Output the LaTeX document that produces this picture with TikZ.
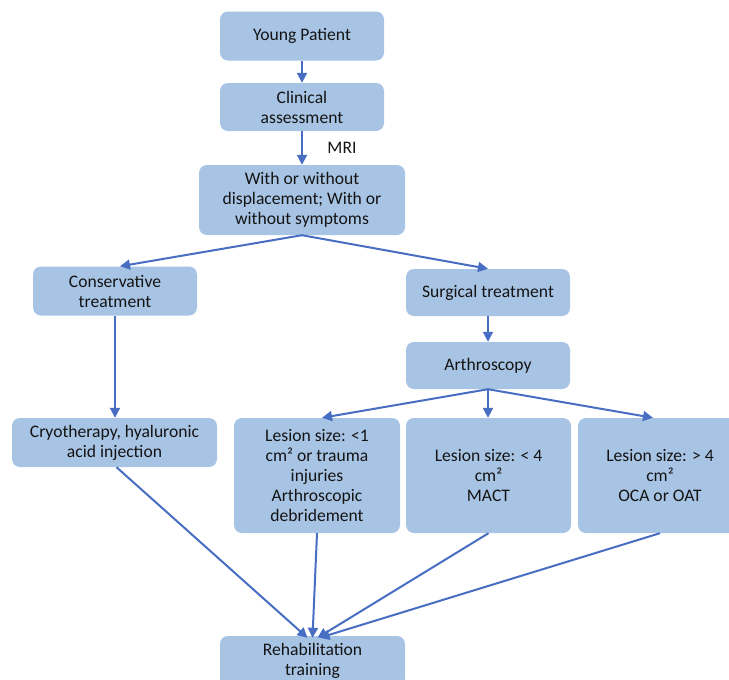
\documentclass[tikz,border=0pt]{standalone}
\usepackage{fontspec}
\setmainfont{Carlito}
\usetikzlibrary{arrows.meta}
\definecolor{boxfill}{RGB}{168,196,228}
\definecolor{arrowc}{RGB}{72,110,196}
\definecolor{txt}{RGB}{20,20,20}
\tikzset{
  box/.style={draw=none, fill=boxfill, rounded corners=8pt, inner sep=0pt,
    align=center, text=txt, font=\fontsize{17.6}{20}\selectfont},
  conn/.style={draw=arrowc, line width=2pt, -{Triangle[length=10pt,width=10pt]}},
}
\begin{document}
\begin{tikzpicture}[x=1pt,y=-1pt]
\useasboundingbox[fill=white] (0,0) rectangle (729,680);
\begin{scope}
\clip (0,0) rectangle (729,680);
\node[box, minimum width=164pt, minimum height=49pt] (young) at (302,36) {Young Patient};
\node[box, minimum width=164pt, minimum height=48pt] (clin) at (302,107) {Clinical\\assessment};
\node[box, minimum width=206pt, minimum height=70pt] (with) at (302,200) {With or without\\displacement; With or\\without symptoms};
\node[box, minimum width=164pt, minimum height=49pt] (cons) at (115,291) {Conservative\\treatment};
\node[box, minimum width=164pt, minimum height=47pt] (surg) at (488,292.5) {Surgical treatment};
\node[box, minimum width=164pt, minimum height=47pt] (arth) at (488,365.5) {Arthroscopy};
\node[box, minimum width=205pt, minimum height=49pt] (cryo) at (114.5,442.5) {Cryotherapy, hyaluronic\\acid injection};
\node[box, minimum width=166pt, minimum height=115pt] (les1) at (317,475.5) {Lesion size: <1\\cm² or trauma\\injuries\\Arthroscopic\\debridement};
\node[box, minimum width=165pt, minimum height=115pt] (les2) at (488.5,475.5) {Lesion size: < 4\\cm²\\MACT};
\node[box, minimum width=164pt, minimum height=115pt] (les3) at (660,475.5) {Lesion size: > 4\\cm²\\OCA or OAT};
\node[box, minimum width=185pt, minimum height=50pt] (rehab) at (312.5,661) {Rehabilitation\\training};
\node[text=txt, font=\fontsize{17.6}{20}\selectfont] (mri) at (342,148) {MRI};

\draw[conn] (young.south) -- (clin.north);
\draw[conn] (clin.south) -- (with.north);
\draw[conn] (with.south) -- ([xshift=5pt]cons.north);
\draw[conn] (with.south) -- (surg.north);
\draw[conn] (surg.south) -- (arth.north);
\draw[conn] (cons.south) -- (cryo.north -| cons.south);
\draw[conn] (arth.south) -- ([xshift=5pt]les1.north);
\draw[conn] (arth.south) -- (les2.north -| arth.south);
\draw[conn] (arth.south) -- ([xshift=-7pt]les3.north);
\draw[conn] ([xshift=2pt]cryo.south) -- ([xshift=-5pt,yshift=-2pt]rehab.north);
\draw[conn] (les1.south) -- ([xshift=0pt,yshift=-2pt]rehab.north);
\draw[conn] (les2.south) -- ([xshift=5pt,yshift=-2pt]rehab.north);
\draw[conn] (les3.south) -- ([xshift=7pt,yshift=-2pt]rehab.north);
\end{scope}
\end{tikzpicture}
\end{document}
